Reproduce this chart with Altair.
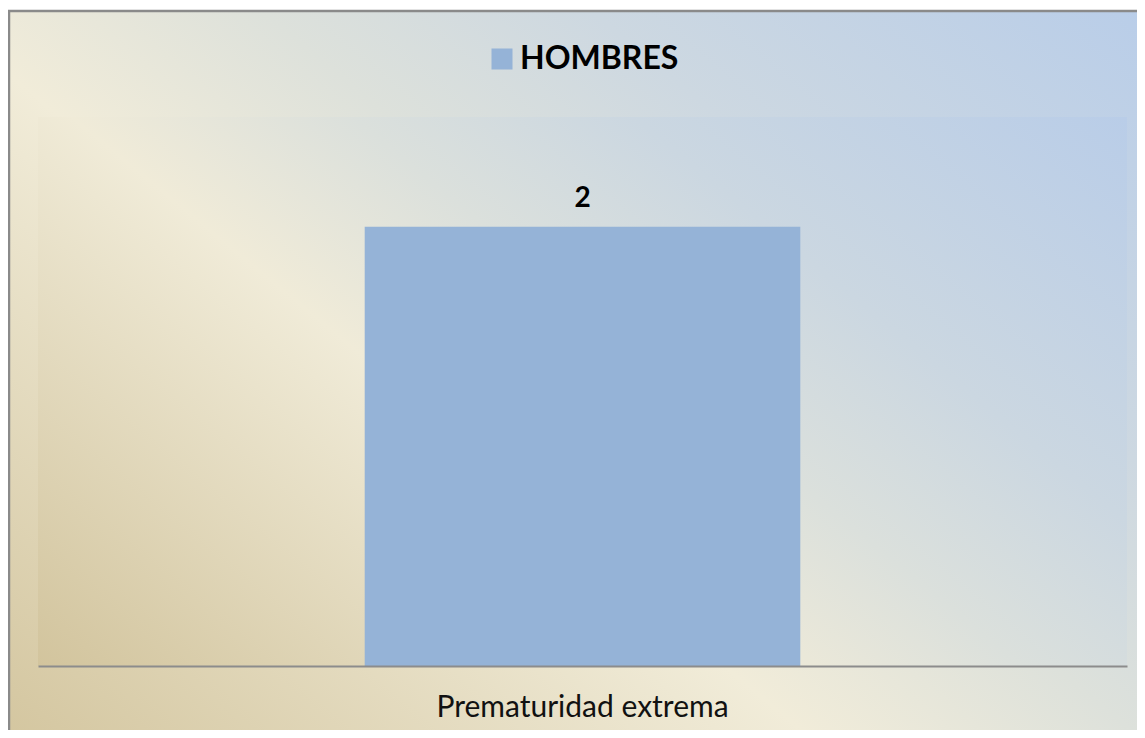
import altair as alt
import pandas as pd

categorias = ["Prematuridad extrema"]
valores = [2]
serie = ["HOMBRES"]

df = pd.DataFrame({"Categoria": categorias, "Valor": valores, "Serie": serie})

W, H = 1089, 549
PAD = {"left": 30, "top": 109, "right": 10, "bottom": 64}

stops_bg = [
    {"offset": 0.0, "color": "#d3c59e"},
    {"offset": 0.40, "color": "#f1ecd9"},
    {"offset": 0.56, "color": "#dde1db"},
    {"offset": 0.72, "color": "#cdd8e1"},
    {"offset": 1.0, "color": "#b8cde9"},
]
stops_plot = [
    {"offset": 0.0, "color": "#d2c49d"},
    {"offset": 0.40, "color": "#f0ebd8"},
    {"offset": 0.56, "color": "#dbe0dc"},
    {"offset": 0.72, "color": "#cbd7e1"},
    {"offset": 1.0, "color": "#b9cde8"},
]
grad_bg = {"gradient": "linear", "x1": 0, "y1": 1, "x2": 1.108, "y2": 0.138, "stops": stops_bg}
grad_plot = {"gradient": "linear", "x1": 0, "y1": 1, "x2": 1.171, "y2": 0.28, "stops": stops_plot}

yscale = alt.Scale(domain=[0, 2.5], nice=False, zero=True)

base = alt.Chart(df)

bg = base.mark_rect(fill=grad_bg, stroke="#8a8a8a", strokeWidth=2.5, clip=False).encode(
    x=alt.value(-29), x2=alt.value(W + 40), y=alt.value(-106), y2=alt.value(H + 90)
)
plotbg = base.mark_rect(fill=grad_plot, clip=False).encode(
    x=alt.value(0), x2=alt.value(W), y=alt.value(0), y2=alt.value(H)
)

bars = base.mark_bar(width=alt.RelativeBandSize(0.4), color="#95b3d7").encode(
    x=alt.X("Categoria:N", title=None,
            scale=alt.Scale(paddingInner=0, paddingOuter=0),
            axis=alt.Axis(labelAngle=0, ticks=False, domainColor="#8c8c8c", domainWidth=2,
                          labelFont="Lato", labelFontSize=30, labelColor="#111111",
                          labelPadding=26, labelLimit=0, zindex=1)),
    y=alt.Y("Valor:Q", scale=yscale, axis=None),
    color=alt.Color("Serie:N", scale=alt.Scale(domain=serie, range=["#95b3d7"]),
                    legend=alt.Legend(title=None, orient="none", legendX=448, legendY=-74,
                                      symbolType="square", symbolSize=441, symbolStrokeWidth=0,
                                      labelFont="Lato", labelFontSize=32, labelFontWeight="bold",
                                      labelColor="#000000", labelOffset=2, padding=0)),
)

labels = base.mark_text(font="Lato", fontSize=28, fontWeight="bold", color="#000000",
                        baseline="alphabetic", dy=-20).encode(
    x="Categoria:N", y=alt.Y("Valor:Q", scale=yscale), text="Valor:Q"
)

chart = alt.layer(bg, plotbg, bars, labels).properties(
    width=W, height=H, autosize=alt.AutoSizeParams(type="none"), padding=PAD
).configure_view(stroke=None).configure(background="white")

chart.save("out.html", embed_options={"renderer": "svg", "actions": False})
